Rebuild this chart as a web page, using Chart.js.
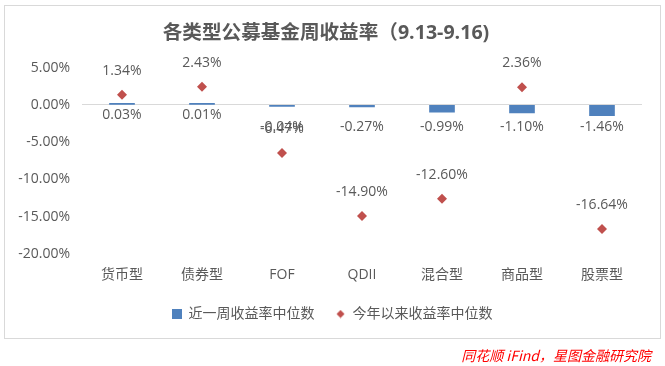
<!DOCTYPE html>
<html><head><meta charset="utf-8">
<script src="https://cdn.jsdelivr.net/npm/chart.js@4.4.0/dist/chart.umd.min.js"></script>
<style>
html,body{margin:0;padding:0;background:#fff;}
#wrap{position:relative;width:665px;height:366px;overflow:hidden;}
#frame{position:absolute;left:4px;top:5px;width:657px;height:334px;border:1px solid #d9d9d9;box-sizing:border-box;}
#src{position:absolute;right:14px;top:345px;line-height:20px;font:italic 14px 'Noto Sans CJK SC',sans-serif;color:#ff0000;white-space:nowrap;}
canvas{position:absolute;left:0;top:0;}
</style></head>
<body><div id="wrap"><div id="frame"></div><canvas id="c" width="665" height="366"></canvas><div id="src">同花顺 iFind，星图金融研究院</div></div>
<script>
const categories = ['货币型','债券型','FOF','QDII','混合型','商品型','股票型'];
const weekly = [0.03, 0.01, -0.04, -0.27, -0.99, -1.10, -1.46];
const ytd = [1.34, 2.43, -6.47, -14.90, -12.60, 2.36, -16.64];
const yTicks = [5, 0, -5, -10, -15, -20];
const seriesNames = ['近一周收益率中位数', '今年以来收益率中位数'];
const titleText = '各类型公募基金周收益率（9.13-9.16)';

const FAM = "'Open Sans','Noto Sans CJK SC',sans-serif";
const GREY = '#595959';
const BLUE = '#4f81bd';
const RED = '#c0504d';

function makeSquare(){ const c=document.createElement('canvas'); c.width=10;c.height=10; const g=c.getContext('2d'); g.fillStyle=BLUE; g.fillRect(0,0,10,10); return c; }
function makeDiamond(){ const c=document.createElement('canvas'); c.width=9;c.height=9; const g=c.getContext('2d'); g.fillStyle=RED; g.beginPath(); g.moveTo(4.5,0.5); g.lineTo(8.5,4.5); g.lineTo(4.5,8.5); g.lineTo(0.5,4.5); g.closePath(); g.fill(); return c; }
const legendImgs = [makeSquare(), makeDiamond()];

const labelPlugin = {
  id: 'valueLabels',
  afterLayout(chart){
    if (chart.legend){ chart.legend.left += 6; chart.legend.right += 6; }
  },
  afterDatasetsDraw(chart){
    const {ctx, scales:{y}} = chart;
    const zero = y.getPixelForValue(0);
    ctx.save();
    ctx.font = "14px " + FAM;
    ctx.fillStyle = GREY;
    ctx.textAlign = 'center';
    ctx.textBaseline = 'middle';
    chart.getDatasetMeta(0).data.forEach((el, i) => {
      const v = weekly[i];
      const yy = v >= 0 ? zero + 10 : zero + 22;
      ctx.fillText(v.toFixed(2) + '%', el.x, yy);
    });
    chart.getDatasetMeta(1).data.forEach((el, i) => {
      ctx.fillText(ytd[i].toFixed(2) + '%', el.x, el.y - 24);
    });
    ctx.restore();
  }
};

new Chart(document.getElementById('c'), {
  type: 'bar',
  data: {
    labels: categories,
    datasets: [
      { label: seriesNames[0], data: weekly, backgroundColor: BLUE, borderWidth: 0, barThickness: 25, minBarLength: 1.5, pointStyle: 'rect' },
      { type: 'line', label: seriesNames[1], data: ytd, showLine: false, pointStyle: 'rectRot', pointRadius: 5, pointHoverRadius: 5,
        backgroundColor: RED, borderColor: RED, pointBorderWidth: 0 }
    ]
  },
  options: {
    responsive: false,
    animation: false,
    devicePixelRatio: 1,
    layout: { padding: { left: 10, right: 23, top: 20, bottom: 35 } },
    plugins: {
      title: { display: true, text: titleText, color: GREY, font: { size: 19.6, weight: 'bold', family: FAM }, padding: { top: 2, bottom: 22 } },
      legend: {
        position: 'bottom',
        labels: {
          usePointStyle: true, boxWidth: 10, boxHeight: 10, padding: 21, color: GREY,
          font: { size: 14, family: FAM },
          generateLabels(chart){
            return Chart.defaults.plugins.legend.labels.generateLabels(chart)
              .sort((a, b) => a.datasetIndex - b.datasetIndex)
              .map(l => Object.assign(l, { pointStyle: legendImgs[l.datasetIndex], lineWidth: 0 }));
          }
        }
      },
      tooltip: { enabled: false }
    },
    scales: {
      x: {
        grid: { display: false, drawTicks: false },
        border: { display: false },
        ticks: { color: GREY, font: { size: 14, family: FAM }, padding: 13 },
        afterFit(s){ s.height = 32; }
      },
      y: {
        min: yTicks[yTicks.length - 1], max: yTicks[0],
        afterBuildTicks(s){ s.ticks = yTicks.map(v => ({ value: v })); },
        grid: { drawTicks: false, color: c => (c.tick && c.tick.value === 0) ? '#d9d9d9' : 'rgba(0,0,0,0)' },
        border: { display: false },
        ticks: { color: GREY, font: { size: 14, family: FAM }, padding: 12, callback: v => Number(v).toFixed(2) + '%' },
        afterFit(s){ s.width = 72; }
      }
    }
  },
  plugins: [labelPlugin]
});
</script>
</body></html>
